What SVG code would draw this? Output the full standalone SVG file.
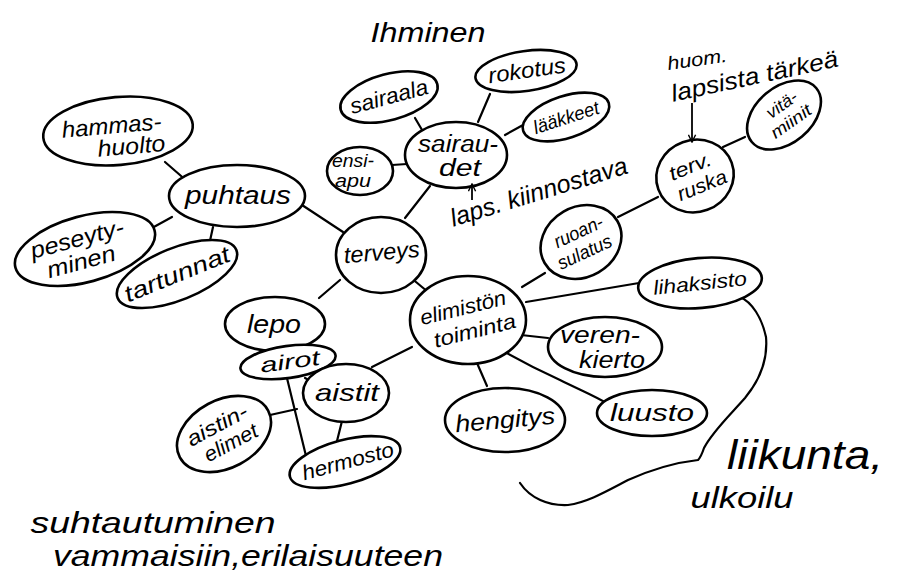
<svg xmlns="http://www.w3.org/2000/svg" width="913" height="574" viewBox="0 0 913 574">
<defs>
<style>
.n ellipse{fill:#fff;stroke:#000;stroke-width:2.6}
.t{font-family:"Liberation Sans","DejaVu Sans",sans-serif;font-style:italic;fill:#000;text-anchor:middle}
#connectors line,#connectors path{stroke:#000;stroke-width:2.2;fill:none;stroke-linecap:round}
.ann{stroke:#000;stroke-width:1.8;fill:none}
</style>
<marker id="ah" viewBox="0 0 10 10" refX="9" refY="5" markerWidth="9" markerHeight="9" orient="auto" markerUnits="userSpaceOnUse">
<path d="M1,1 L9,5 L1,9" fill="none" stroke="#000" stroke-width="1.6"/>
</marker>
</defs>
<rect width="913" height="574" fill="#fff"/>

<g id="connectors">
<line x1="165" y1="162" x2="188" y2="182"/>
<line x1="152" y1="228" x2="172" y2="217"/>
<line x1="213" y1="227" x2="208" y2="250"/>
<line x1="302" y1="205" x2="343" y2="232"/>
<line x1="405" y1="218" x2="430" y2="186"/>
<line x1="340" y1="280" x2="319" y2="298"/>
<line x1="410" y1="277" x2="428" y2="292"/>
<line x1="522" y1="287" x2="545" y2="273"/>
<line x1="618" y1="217" x2="658" y2="197"/>
<line x1="723" y1="147" x2="745" y2="137"/>
<line x1="415" y1="118" x2="425" y2="135"/>
<line x1="490" y1="94" x2="478" y2="122"/>
<line x1="505" y1="135" x2="523" y2="125"/>
<line x1="392" y1="165" x2="407" y2="164"/>
<line x1="526" y1="302" x2="639" y2="283"/>
<line x1="512" y1="334" x2="548" y2="338"/>
<line x1="477" y1="363" x2="487" y2="386"/>
<path d="M498,348 C522,362 538,370 560,380 C580,390 595,396 608,404"/>
<line x1="412" y1="347" x2="372" y2="367"/>
<line x1="305" y1="378" x2="318" y2="385"/>
<line x1="285" y1="370" x2="307" y2="460"/>
<line x1="270" y1="415" x2="297" y2="409"/>
<line x1="342" y1="421" x2="337" y2="441"/>
<path d="M740,297 C752,302 762,318 766,337 C768,360 760,380 745,398 C730,415 712,432 704,448 C702,454 700,458 698,460 C680,462 655,468 628,480 C605,492 588,502 568,505 C548,506 530,498 520,483"/>
</g>

<g id="hammashuolto" class="n"><ellipse cx="118" cy="131" rx="75" ry="34" transform="rotate(-5 118 131)"/>
<text class="t" font-size="23" transform="rotate(-5 118 131)"><tspan x="112" y="133" textLength="100" lengthAdjust="spacingAndGlyphs">hammas-</tspan><tspan x="130" y="155" textLength="68" lengthAdjust="spacingAndGlyphs">huolto</tspan></text></g>

<g id="puhtaus" class="n"><ellipse cx="237" cy="196" rx="68" ry="31"/>
<text class="t" font-size="26" x="238" y="204" textLength="106" lengthAdjust="spacingAndGlyphs">puhtaus</text></g>

<g id="peseytyminen" class="n"><ellipse cx="85" cy="249" rx="72" ry="33" transform="rotate(-15 85 249)"/>
<text class="t" font-size="23" transform="rotate(-15 85 249)"><tspan x="80" y="245" textLength="96" lengthAdjust="spacingAndGlyphs">peseyty-</tspan><tspan x="78" y="268" textLength="70" lengthAdjust="spacingAndGlyphs">minen</tspan></text></g>

<g id="tartunnat" class="n"><ellipse cx="177" cy="274" rx="64" ry="26" transform="rotate(-22 177 274)"/>
<text class="t" font-size="23" x="177" y="282" textLength="112" lengthAdjust="spacingAndGlyphs" transform="rotate(-22 177 274)">tartunnat</text></g>

<g id="sairaala" class="n"><ellipse cx="389" cy="97" rx="50" ry="23" transform="rotate(-15 389 97)"/>
<text class="t" font-size="22" x="389" y="104" textLength="80" lengthAdjust="spacingAndGlyphs" transform="rotate(-15 389 97)">sairaala</text></g>

<g id="rokotus" class="n"><ellipse cx="526" cy="71" rx="51" ry="20" transform="rotate(-8 526 71)"/>
<text class="t" font-size="22" x="527" y="78" textLength="78" lengthAdjust="spacingAndGlyphs" transform="rotate(-8 526 71)">rokotus</text></g>

<g id="laakkeet" class="n"><ellipse cx="566" cy="117" rx="45" ry="21" transform="rotate(-18 566 117)"/>
<text class="t" font-size="19" x="566" y="124" textLength="68" lengthAdjust="spacingAndGlyphs" transform="rotate(-18 566 117)">lääkkeet</text></g>

<g id="sairaudet" class="n"><ellipse cx="456" cy="155" rx="51" ry="33"/>
<text class="t" font-size="23"><tspan x="458" y="152" textLength="80" lengthAdjust="spacingAndGlyphs">sairau-</tspan><tspan x="460" y="176" textLength="42" lengthAdjust="spacingAndGlyphs">det</tspan></text></g>

<g id="ensiapu" class="n"><ellipse cx="360" cy="171" rx="33" ry="24"/>
<text class="t" font-size="19"><tspan x="353" y="167" textLength="42" lengthAdjust="spacingAndGlyphs">ensi-</tspan><tspan x="353" y="187" textLength="36" lengthAdjust="spacingAndGlyphs">apu</tspan></text></g>

<g id="terveys" class="n"><ellipse cx="381" cy="255" rx="45" ry="38"/>
<text class="t" font-size="23" x="382" y="260" textLength="76" lengthAdjust="spacingAndGlyphs" transform="rotate(-5 382 255)">terveys</text></g>

<g id="ruoansulatus" class="n"><ellipse cx="581" cy="242" rx="42" ry="35" transform="rotate(-30 581 242)"/>
<text class="t" font-size="19" transform="rotate(-25 581 242)"><tspan x="583" y="238" textLength="52" lengthAdjust="spacingAndGlyphs">ruoan-</tspan><tspan x="580" y="259" textLength="58" lengthAdjust="spacingAndGlyphs">sulatus</tspan></text></g>

<g id="tervruska" class="n"><ellipse cx="695" cy="176" rx="39" ry="36" transform="rotate(-20 695 176)"/>
<text class="t" font-size="20" transform="rotate(-22 695 176)"><tspan x="694" y="172" textLength="44" lengthAdjust="spacingAndGlyphs">terv.</tspan><tspan x="698" y="194" textLength="52" lengthAdjust="spacingAndGlyphs">ruska</tspan></text></g>

<g id="vitamiinit" class="n"><ellipse cx="784" cy="115" rx="42" ry="28" transform="rotate(-40 784 115)"/>
<text class="t" font-size="17" transform="rotate(-35 784 115)"><tspan x="788" y="111" textLength="34" lengthAdjust="spacingAndGlyphs">vitä-</tspan><tspan x="786" y="130" textLength="46" lengthAdjust="spacingAndGlyphs">miinit</tspan></text></g>

<g id="elimiston" class="n"><ellipse cx="468" cy="320" rx="58" ry="44"/>
<text class="t" font-size="21" transform="rotate(-14 468 320)"><tspan x="466" y="314" textLength="88" lengthAdjust="spacingAndGlyphs">elimistön</tspan><tspan x="472" y="339" textLength="84" lengthAdjust="spacingAndGlyphs">toiminta</tspan></text></g>

<g id="lihaksisto" class="n"><ellipse cx="700" cy="283" rx="62" ry="25" transform="rotate(-5 700 283)"/>
<text class="t" font-size="20" x="700" y="290" textLength="94" lengthAdjust="spacingAndGlyphs" transform="rotate(-6 700 283)">lihaksisto</text></g>

<g id="verenkierto" class="n"><ellipse cx="605" cy="347" rx="57" ry="30"/>
<text class="t" font-size="23"><tspan x="600" y="343" textLength="80" lengthAdjust="spacingAndGlyphs">veren-</tspan><tspan x="612" y="368" textLength="66" lengthAdjust="spacingAndGlyphs">kierto</tspan></text></g>

<g id="hengitys" class="n"><ellipse cx="505" cy="420" rx="60" ry="32"/>
<text class="t" font-size="24" x="505" y="428" textLength="100" lengthAdjust="spacingAndGlyphs" transform="rotate(-5 505 420)">hengitys</text></g>

<g id="luusto" class="n"><ellipse cx="652" cy="413" rx="55" ry="23"/>
<text class="t" font-size="24" x="652" y="421" textLength="84" lengthAdjust="spacingAndGlyphs">luusto</text></g>

<g id="lepo" class="n"><ellipse cx="275" cy="324" rx="50" ry="27"/>
<text class="t" font-size="26" x="274" y="333" textLength="54" lengthAdjust="spacingAndGlyphs">lepo</text></g>

<g id="airot" class="n"><ellipse cx="288" cy="362" rx="48" ry="16" transform="rotate(-8 288 362)"/>
<text class="t" font-size="21" x="290" y="369" textLength="60" lengthAdjust="spacingAndGlyphs" transform="rotate(-8 288 362)">airot</text></g>

<g id="aistit" class="n"><ellipse cx="346" cy="393" rx="43" ry="29"/>
<text class="t" font-size="24" x="347" y="401" textLength="64" lengthAdjust="spacingAndGlyphs">aistit</text></g>

<g id="aistinelimet" class="n"><ellipse cx="224" cy="434" rx="50" ry="34" transform="rotate(-28 224 434)"/>
<text class="t" font-size="21" transform="rotate(-28 224 434)"><tspan x="222" y="430" textLength="66" lengthAdjust="spacingAndGlyphs">aistin-</tspan><tspan x="226" y="452" textLength="58" lengthAdjust="spacingAndGlyphs">elimet</tspan></text></g>

<g id="hermosto" class="n"><ellipse cx="345" cy="462" rx="57" ry="22" transform="rotate(-15 345 462)"/>
<text class="t" font-size="21" x="348" y="469" textLength="94" lengthAdjust="spacingAndGlyphs" transform="rotate(-15 345 462)">hermosto</text></g>

<g id="annotations">
<text class="t" font-size="28" x="428" y="42" textLength="115" lengthAdjust="spacingAndGlyphs">Ihminen</text>
<text class="t" font-size="19" x="698" y="66" textLength="60" lengthAdjust="spacingAndGlyphs" transform="rotate(-8 697 66)">huom.</text>
<text class="t" font-size="24" x="756" y="84" textLength="170" lengthAdjust="spacingAndGlyphs" transform="rotate(-12 756 83)">lapsista tärkeä</text>
<line class="ann" x1="692" y1="103" x2="692" y2="142" marker-end="url(#ah)"/>
<text class="t" font-size="25" x="540" y="200" textLength="184" lengthAdjust="spacingAndGlyphs" transform="rotate(-17 540 196)">laps. kiinnostava</text>
<line class="ann" x1="472" y1="200" x2="472" y2="184" marker-end="url(#ah)"/>
<text class="t" font-size="40" x="805" y="469" textLength="156" lengthAdjust="spacingAndGlyphs">liikunta,</text>
<text class="t" font-size="30" x="742" y="508" textLength="103" lengthAdjust="spacingAndGlyphs">ulkoilu</text>
<text class="t" font-size="30" x="153" y="533" textLength="245" lengthAdjust="spacingAndGlyphs">suhtautuminen</text>
<text class="t" font-size="30" x="248" y="566" textLength="390" lengthAdjust="spacingAndGlyphs">vammaisiin,erilaisuuteen</text>
</g>
</svg>
